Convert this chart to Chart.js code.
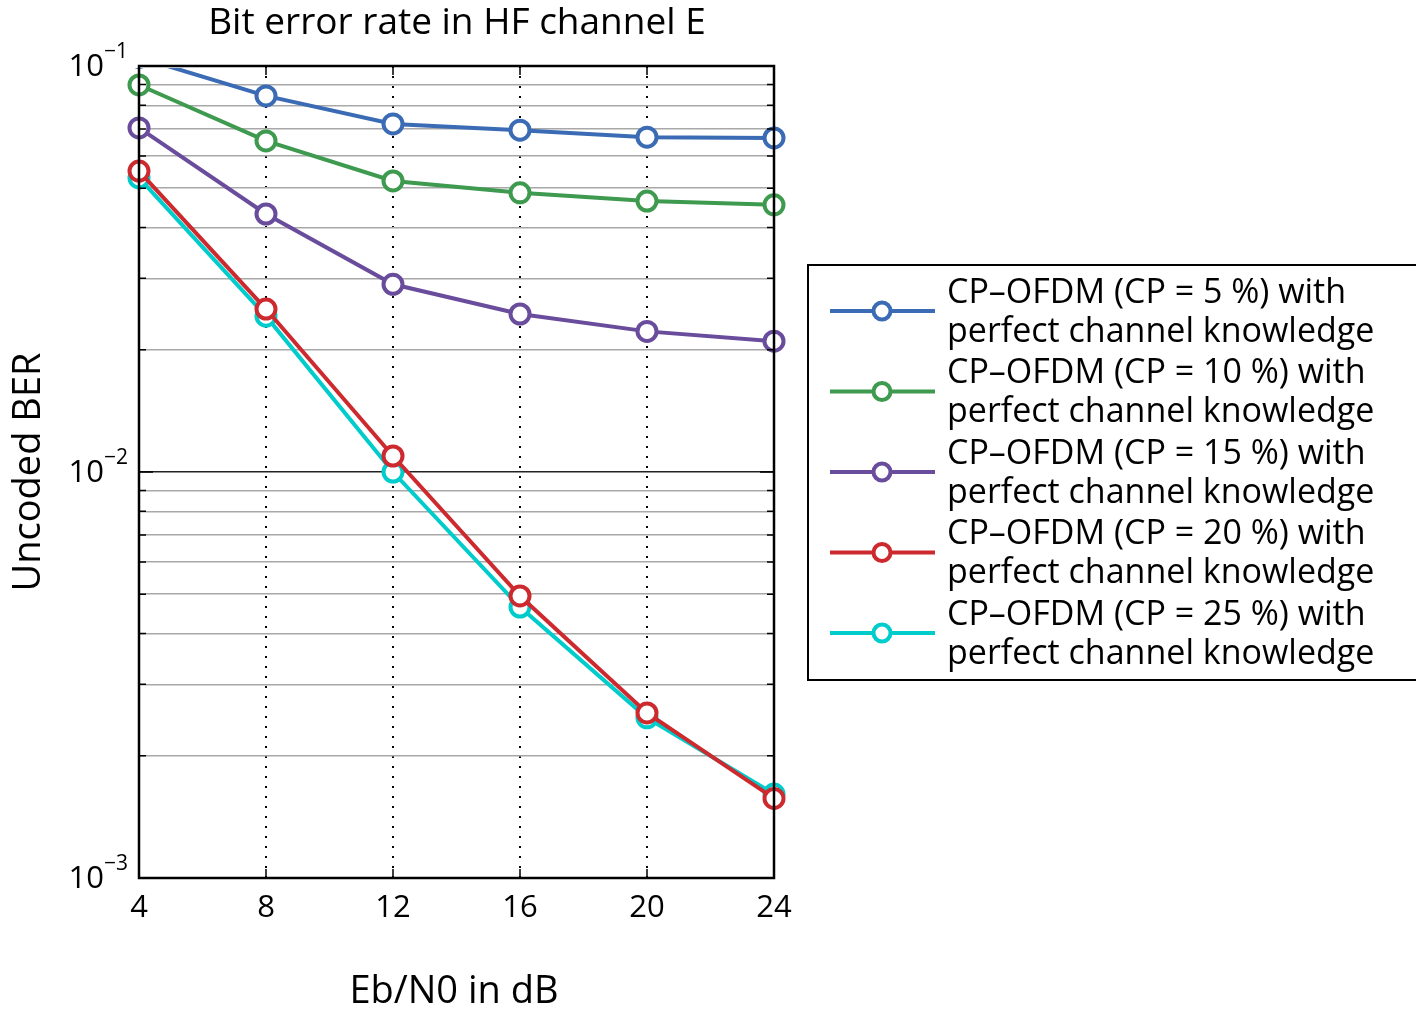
<!DOCTYPE html>
<html>
<head>
<meta charset="utf-8">
<script src="https://cdn.jsdelivr.net/npm/chart.js@4.4.1/dist/chart.umd.min.js"></script>
<style>
  html, body { margin: 0; padding: 0; background: #fff; }
  #wrap { width: 1416px; height: 1011px; }
</style>
</head>
<body>
<div id="wrap"><canvas id="ber" width="1416" height="1011"></canvas></div>
<script>
// Eb/N0 in dB
const ebN0 = [4, 8, 12, 16, 20, 24];

// uncoded BER for each cyclic prefix length
const berCp5 = [0.105, 0.0844, 0.0720, 0.0695, 0.0668, 0.0665];
const berCp10 = [0.0898, 0.0654, 0.0521, 0.0487, 0.0465, 0.0455];
const berCp15 = [0.0704, 0.0432, 0.0290, 0.0245, 0.0222, 0.0210];
const berCp20 = [0.0551, 0.0252, 0.01095, 0.00495, 0.00255, 0.00157];
const berCp25 = [0.0530, 0.0242, 0.0100, 0.00465, 0.00248, 0.00161];

const seriesLabels = [
    ['CP\u2013OFDM (CP = 5 %) with', 'perfect channel knowledge'],
    ['CP\u2013OFDM (CP = 10 %) with', 'perfect channel knowledge'],
    ['CP\u2013OFDM (CP = 15 %) with', 'perfect channel knowledge'],
    ['CP\u2013OFDM (CP = 20 %) with', 'perfect channel knowledge'],
    ['CP\u2013OFDM (CP = 25 %) with', 'perfect channel knowledge']
];
const seriesColors = ['#3a6bb4', '#3d9a4e', '#6a4c9c', '#cc2a2e', '#00cccc'];

const xTicks = [4, 8, 12, 16, 20, 24];
const yDecades = [-1, -2, -3];
const yGridValues = [
    0.002, 0.003, 0.004, 0.005, 0.006, 0.007, 0.008, 0.009,
    0.01, 0.02, 0.03, 0.04, 0.05, 0.06, 0.07, 0.08, 0.09
];

const chartTitle = 'Bit error rate in HF channel E';
const xTitle = 'Eb/N0 in dB';
const yTitle = 'Uncoded BER';

const FONT = '"Open Sans", "Liberation Sans", sans-serif';

const makeDataset = (label, values, color) => ({
    label: label,
    data: values,
    borderColor: color,
    backgroundColor: color,
    borderWidth: 4,
    pointRadius: 9.5,
    pointBorderWidth: 4,
    pointBackgroundColor: '#fff',
    pointBorderColor: color,
    pointHoverRadius: 9.5,
    tension: 0,
    clip: { left: 14, right: 14, top: -2, bottom: 14 }
});

// frame, tick marks, text and legend drawn around the plot box
const decorations = {
    id: 'decorations',
    afterDraw(chart) {
        const ctx = chart.ctx;
        const area = chart.chartArea;
        const xs = chart.scales.x;
        const ys = chart.scales.y;

        ctx.save();

        // inner tick marks
        ctx.strokeStyle = '#000';
        ctx.lineWidth = 1.5;
        ctx.setLineDash([]);
        xTicks.forEach(v => {
            const px = xs.getPixelForValue(v);
            ctx.beginPath();
            ctx.moveTo(px, area.bottom);
            ctx.lineTo(px, area.bottom - 9);
            ctx.moveTo(px, area.top);
            ctx.lineTo(px, area.top + 9);
            ctx.stroke();
        });
        yGridValues.forEach(v => {
            const py = ys.getPixelForValue(v);
            const len = v === 0.01 ? 14 : 7;
            ctx.beginPath();
            ctx.moveTo(area.left, py);
            ctx.lineTo(area.left + len, py);
            ctx.moveTo(area.right, py);
            ctx.lineTo(area.right - len, py);
            ctx.stroke();
        });

        // plot box
        ctx.lineWidth = 2.5;
        ctx.strokeRect(area.left, area.top, area.right - area.left, area.bottom - area.top);

        ctx.fillStyle = '#000';

        // x tick labels
        ctx.font = '31px ' + FONT;
        ctx.textAlign = 'center';
        ctx.textBaseline = 'middle';
        xTicks.forEach(v => {
            ctx.fillText(String(v), xs.getPixelForValue(v), area.bottom + 30);
        });

        // y tick labels as powers of ten
        yDecades.forEach(e => {
            const py = ys.getPixelForValue(Math.pow(10, e));
            ctx.font = '31px ' + FONT;
            ctx.textAlign = 'right';
            ctx.textBaseline = 'middle';
            ctx.fillText('10', 104, py + 1);
            ctx.font = '21px ' + FONT;
            ctx.textAlign = 'left';
            ctx.fillText('\u2212' + Math.abs(e), 104, py - 14);
        });

        // titles
        ctx.font = '37px ' + FONT;
        ctx.textAlign = 'center';
        ctx.textBaseline = 'middle';
        ctx.fillText(chartTitle, 457, 23);
        ctx.font = '38px ' + FONT;
        ctx.fillText(xTitle, 454, 992);
        ctx.save();
        ctx.translate(29, 472);
        ctx.rotate(-Math.PI / 2);
        ctx.fillText(yTitle, 0, 0);
        ctx.restore();

        // legend
        const box = { left: 808, top: 265, right: 1420, bottom: 680 };
        ctx.fillStyle = '#fff';
        ctx.fillRect(box.left, box.top, box.right - box.left, box.bottom - box.top);
        ctx.strokeStyle = '#000';
        ctx.lineWidth = 2;
        ctx.strokeRect(box.left, box.top, box.right - box.left, box.bottom - box.top);

        chart.data.datasets.forEach((ds, i) => {
            const cy = 311 + i * 80.5;
            ctx.strokeStyle = ds.borderColor;
            ctx.lineWidth = 4;
            ctx.beginPath();
            ctx.moveTo(830, cy);
            ctx.lineTo(935, cy);
            ctx.stroke();
            ctx.beginPath();
            ctx.arc(882, cy, 8.5, 0, Math.PI * 2);
            ctx.fillStyle = '#fff';
            ctx.fill();
            ctx.lineWidth = 4;
            ctx.stroke();

            ctx.fillStyle = '#000';
            ctx.font = '34px ' + FONT;
            ctx.textAlign = 'left';
            ctx.textBaseline = 'middle';
            ctx.fillText(ds.label[0], 947, cy - 18);
            ctx.fillText(ds.label[1], 947, cy + 21);
        });

        ctx.restore();
    }
};

const ctxBer = document.getElementById('ber');

new Chart(ctxBer, {
    type: 'line',
    data: {
        datasets: [
            makeDataset(seriesLabels[0], ebN0.map((x, i) => ({ x: x, y: berCp5[i] })), seriesColors[0]),
            makeDataset(seriesLabels[1], ebN0.map((x, i) => ({ x: x, y: berCp10[i] })), seriesColors[1]),
            makeDataset(seriesLabels[2], ebN0.map((x, i) => ({ x: x, y: berCp15[i] })), seriesColors[2]),
            makeDataset(seriesLabels[3], ebN0.map((x, i) => ({ x: x, y: berCp20[i] })), seriesColors[3]),
            makeDataset(seriesLabels[4], ebN0.map((x, i) => ({ x: x, y: berCp25[i] })), seriesColors[4])
        ]
    },
    options: {
        responsive: false,
        animation: false,
        events: [],
        layout: {
            padding: { left: 139, right: 642, top: 66, bottom: 133 }
        },
        plugins: {
            legend: { display: false },
            title: { display: false },
            tooltip: { enabled: false }
        },
        scales: {
            x: {
                type: 'linear',
                min: 4,
                max: 24,
                afterBuildTicks: (scale) => {
                    scale.ticks = xTicks.map(v => ({ value: v }));
                },
                ticks: { display: false },
                border: { display: false, dash: [2, 8] },
                grid: {
                    drawTicks: false,
                    lineWidth: 2,
                    color: (c) => (c.tick && (c.tick.value === 4 || c.tick.value === 24)) ? 'rgba(0,0,0,0)' : '#000'
                }
            },
            y: {
                type: 'logarithmic',
                min: 0.001,
                max: 0.1,
                afterBuildTicks: (scale) => {
                    scale.ticks = yGridValues.map(v => ({ value: v }));
                },
                ticks: { display: false },
                border: { display: false },
                grid: {
                    drawTicks: false,
                    lineWidth: 1.5,
                    color: (c) => (c.tick && c.tick.value === 0.01) ? '#222' : '#a8a8a8'
                }
            }
        }
    },
    plugins: [decorations]
});
</script>
</body>
</html>
